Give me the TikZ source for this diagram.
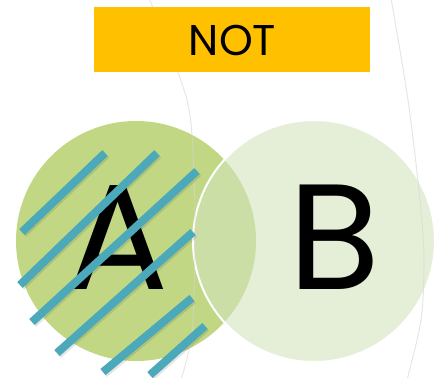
\documentclass[tikz,border=0pt]{standalone}
\usepackage{fontspec}
\setmainfont{Poppins}
\definecolor{acol}{HTML}{C2D784}
\definecolor{bcol}{HTML}{E5EFD8}
\definecolor{abcol}{HTML}{CBDEA6}
\definecolor{stripe}{HTML}{4BA9BA}
\definecolor{notbox}{HTML}{FFC000}
\definecolor{arcgray}{HTML}{D6D6D6}
\tikzset{
  stripeline/.style={draw=stripe, line width=8pt, line cap=butt},
  stripeshadow/.style={draw=black, opacity=0.10, line width=9pt, line cap=butt},
  bgarc/.style={draw=arcgray, line width=1pt},
  bigletter/.style={inner sep=0pt, font=\fontsize{150}{150}\selectfont},
}
\begin{document}
\begin{tikzpicture}[x=1pt,y=-1pt]
\useasboundingbox (0,0) rectangle (437,378);
% circles
\fill[acol] (136,241) circle[radius=120pt];
\fill[bcol] (314,241) circle[radius=121pt];
\begin{scope}
  \clip (136,241) circle[radius=120pt];
  \fill[abcol] (314,241) circle[radius=121pt];
\end{scope}
\draw[white, line width=2pt] (314,241) circle[radius=121pt];
% background arcs
\draw[bgarc, opacity=0.6] plot[smooth] coordinates {(149,-2) (187,100) (194,180) (195,250) (192,333) (181,380)};
\draw[bgarc, opacity=0.6] plot[smooth] coordinates {(391,-2) (408,100) (420,200) (424,260) (421,320) (407,380)};
% title
\node[fill=notbox, minimum width=276pt, minimum height=65pt, inner sep=0pt] (title) at (232,39.5) {};
\node[inner sep=0pt, font=\fontsize{43}{43}\selectfont] (nottext) at (232.5,40) {NOT};
% letters
\node[bigletter] (la) at (118,237.5) {A};
\node[bigletter] (lb) at (334.5,237.5) {B};
% stripes
\foreach \a/\b/\c/\d in {22/232/105/153, 20/285/157/153, 32/322/197/171, 57/353/193/232, 103/372/192/298, 150/375/205/326}{
  \draw[stripeshadow] (\a+1,\b+1.5) -- (\c+1,\d+1.5);
  \draw[stripeline] (\a,\b) -- (\c,\d);
}
\end{tikzpicture}
\end{document}
